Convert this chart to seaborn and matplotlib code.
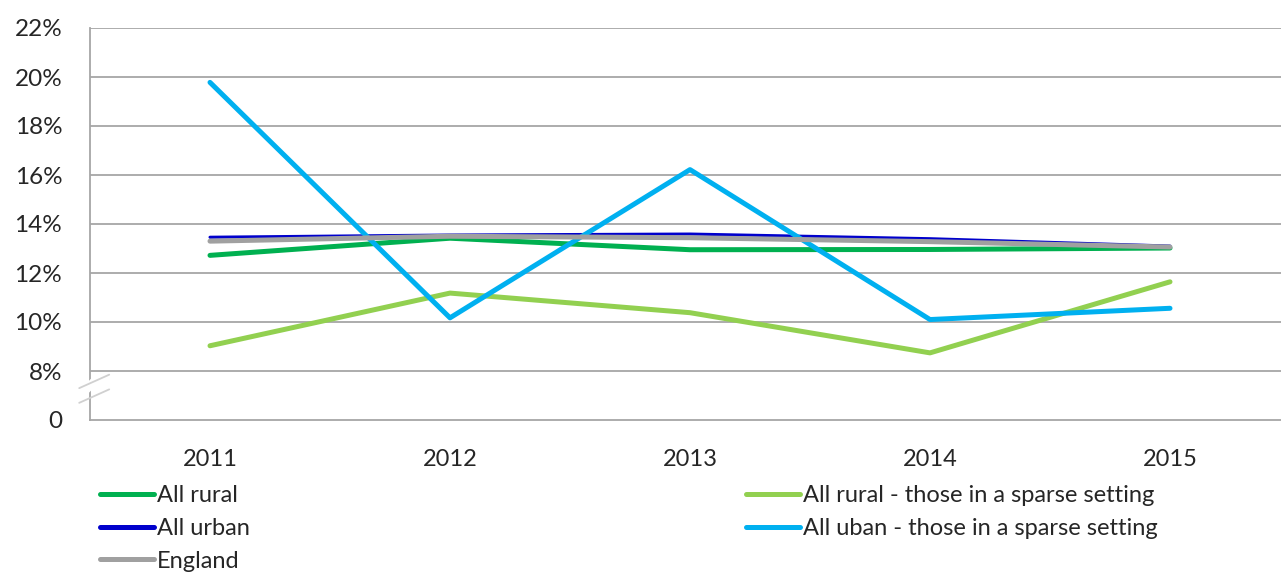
import pandas as pd
import seaborn as sns
import matplotlib.pyplot as plt
from matplotlib.lines import Line2D

years = ["2011", "2012", "2013", "2014", "2015"]
all_rural = [12.72, 13.42, 12.95, 12.96, 13.02]
rural_sparse = [9.03, 11.18, 10.38, 8.74, 11.64]
all_urban = [13.46, 13.55, 13.59, 13.40, 13.10]
urban_sparse = [19.78, 10.17, 16.22, 10.10, 10.56]
england = [13.30, 13.50, 13.44, 13.28, 13.06]

series_names = ["All rural", "All rural - those in a sparse setting", "All urban",
                "All uban - those in a sparse setting", "England"]
series_values = [all_rural, rural_sparse, all_urban, urban_sparse, england]
colors = ["#00B050", "#92D050", "#0000CC", "#00B0F0", "#A0A0A0"]
widths = [3.6, 3.6, 2.2, 3.6, 3.6]

ytick_vals = [6, 8, 10, 12, 14, 16, 18, 20, 22]
ytick_labels = ["0", "8%", "10%", "12%", "14%", "16%", "18%", "20%", "22%"]

sns.set_style("white")
plt.rcParams["font.family"] = ["Lato", "DejaVu Sans"]

rows = []
for name, vals in zip(series_names, series_values):
    for y, v in zip(years, vals):
        rows.append({"year": y, "value": v, "series": name})
df = pd.DataFrame(rows)

fig = plt.figure(figsize=(12.81, 5.72), dpi=100)
ax = fig.add_axes([90 / 1281, 1 - 420 / 572, 1200 / 1281, 392 / 572])

grid_c = "#A6A6A6"
for name, c, lw in zip(series_names, colors, widths):
    sns.lineplot(data=df[df["series"] == name], x="year", y="value", color=c,
                 linewidth=lw, ax=ax, solid_capstyle="round", legend=False, zorder=3)

ax.set_xlim(-0.5, 4.5)
ax.set_ylim(6, 22)
ax.set_yticks(ytick_vals)
ax.set_yticklabels(ytick_labels)
ax.set_xticks(range(len(years)))
ax.set_xticklabels(years)
ax.set_xticks([i - 0.5 for i in range(len(years) + 1)], minor=True)
ax.tick_params(axis="x", which="major", length=0, pad=21, labelsize=17)
ax.tick_params(axis="x", which="minor", length=6, color=grid_c, width=1.3)
ax.tick_params(axis="y", length=6, color=grid_c, width=1.3, pad=14, labelsize=17.5)
ax.set_xlabel("")
ax.set_ylabel("")
for y in ytick_vals[1:]:
    ax.axhline(y, color=grid_c, lw=1.3, zorder=1)
for s in ["top", "right"]:
    ax.spines[s].set_visible(False)
for s in ["left", "bottom"]:
    ax.spines[s].set_color(grid_c)
    ax.spines[s].set_linewidth(1.3)

# axis break marks
ax.plot([-0.52, -0.475], [7.2, 7.65], color="white", lw=6, clip_on=False, zorder=4)
for y0 in [6.7, 7.3]:
    ax.plot([-0.545, -0.42], [y0, y0 + 0.55], color="#D0D0D0", lw=1.3,
            clip_on=False, zorder=5)

handles = [Line2D([0], [0], color=c, lw=3.6) for c in colors]
order = [0, 2, 4, 1, 3]
fig.legend([handles[i] for i in order], [series_names[i] for i in order],
           loc="upper left", bbox_to_anchor=(100 / 1281, 1 - 485 / 572), ncol=2,
           frameon=False, fontsize=17, handlelength=2.3, handletextpad=0.12,
           labelspacing=0.5, columnspacing=21.0, borderaxespad=0, borderpad=0)

fig.savefig("out.png", dpi=100)
